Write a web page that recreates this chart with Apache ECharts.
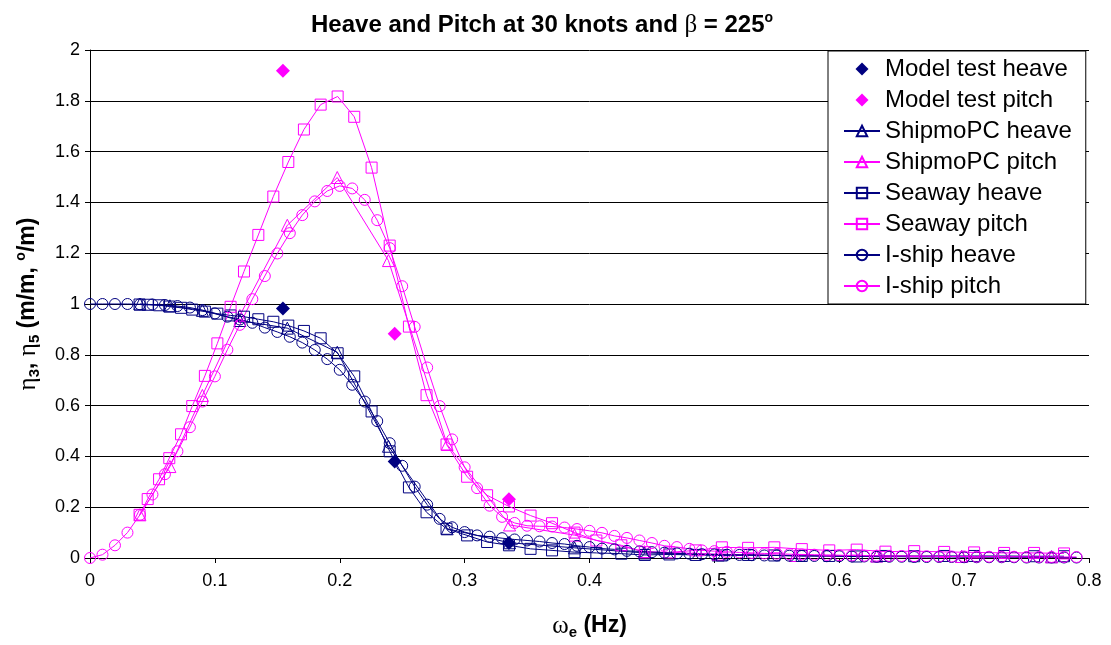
<!DOCTYPE html>
<html>
<head>
<meta charset="utf-8">
<script src="https://cdn.jsdelivr.net/npm/echarts@6/dist/echarts.min.js"></script>
<style>
html, body { margin: 0; background: #fff; }
#main { width: 1111px; height: 645px; }
</style>
</head>
<body>
<div id="main"></div>
<script>
// frequencies (Hz) and responses
var ishipFreq = [0.00, 0.01, 0.02, 0.03, 0.04, 0.05, 0.06, 0.07, 0.08, 0.09,
  0.10, 0.11, 0.12, 0.13, 0.14, 0.15, 0.16, 0.17, 0.18, 0.19,
  0.20, 0.21, 0.22, 0.23, 0.24, 0.25, 0.26, 0.27, 0.28, 0.29,
  0.30, 0.31, 0.32, 0.33, 0.34, 0.35, 0.36, 0.37, 0.38, 0.39,
  0.40, 0.41, 0.42, 0.43, 0.44, 0.45, 0.46, 0.47, 0.48, 0.49,
  0.50, 0.51, 0.52, 0.53, 0.54, 0.55, 0.56, 0.57, 0.58, 0.59,
  0.60, 0.61, 0.62, 0.63, 0.64, 0.65, 0.66, 0.67, 0.68, 0.69,
  0.70, 0.71, 0.72, 0.73, 0.74, 0.75, 0.76, 0.77, 0.78, 0.79];
var ishipHeave = [1.000, 1.000, 1.000, 1.000, 0.999, 0.998, 0.996, 0.992, 0.986, 0.976,
  0.963, 0.950, 0.939, 0.926, 0.907, 0.890, 0.871, 0.848, 0.819, 0.783,
  0.741, 0.682, 0.616, 0.539, 0.452, 0.363, 0.281, 0.210, 0.154, 0.121,
  0.102, 0.089, 0.084, 0.078, 0.073, 0.069, 0.065, 0.059, 0.055, 0.048,
  0.043, 0.037, 0.034, 0.028, 0.026, 0.023, 0.021, 0.018, 0.017, 0.015,
  0.014, 0.013, 0.012, 0.011, 0.010, 0.010, 0.009, 0.008, 0.008, 0.007,
  0.007, 0.006, 0.006, 0.005, 0.005, 0.005, 0.004, 0.004, 0.004, 0.004,
  0.003, 0.003, 0.003, 0.003, 0.003, 0.002, 0.002, 0.002, 0.002, 0.002];
var ishipPitch = [0.000, 0.013, 0.050, 0.100, 0.170, 0.250, 0.330, 0.420, 0.515, 0.616,
  0.715, 0.820, 0.918, 1.019, 1.110, 1.199, 1.279, 1.350, 1.404, 1.445,
  1.465, 1.455, 1.410, 1.330, 1.220, 1.070, 0.910, 0.750, 0.598, 0.467,
  0.357, 0.275, 0.206, 0.162, 0.138, 0.127, 0.125, 0.124, 0.120, 0.114,
  0.107, 0.099, 0.087, 0.079, 0.069, 0.059, 0.048, 0.043, 0.036, 0.030,
  0.027, 0.024, 0.022, 0.020, 0.018, 0.017, 0.015, 0.014, 0.013, 0.012,
  0.011, 0.010, 0.009, 0.009, 0.008, 0.008, 0.007, 0.007, 0.006, 0.006,
  0.006, 0.005, 0.005, 0.005, 0.005, 0.004, 0.004, 0.004, 0.004, 0.004];

var seawayFreq = [0.0397, 0.0462, 0.0553, 0.0635, 0.0729, 0.0819, 0.092, 0.102, 0.1126, 0.1233,
  0.1348, 0.1468, 0.1588, 0.1713, 0.1847, 0.1983, 0.2116, 0.2255, 0.240, 0.2554,
  0.2695, 0.2855, 0.302, 0.318, 0.3355, 0.3528, 0.370, 0.388, 0.4055, 0.4255,
  0.4443, 0.464, 0.485, 0.506, 0.527, 0.548, 0.570, 0.592, 0.614, 0.637,
  0.660, 0.684, 0.708, 0.732, 0.756, 0.780];
var seawayHeave = [0.998, 0.997, 0.995, 0.990, 0.985, 0.978, 0.970, 0.962, 0.955, 0.950,
  0.940, 0.930, 0.915, 0.894, 0.865, 0.806, 0.715, 0.577, 0.420, 0.278,
  0.180, 0.115, 0.089, 0.063, 0.050, 0.036, 0.030, 0.023, 0.020, 0.017,
  0.012, 0.014, 0.012, 0.010, 0.012, 0.010, 0.008, 0.008, 0.006, 0.008,
  0.007, 0.008, 0.008, 0.008, 0.007, 0.007];
var seawayPitch = [0.170, 0.232, 0.310, 0.393, 0.487, 0.598, 0.717, 0.845, 0.989, 1.128,
  1.272, 1.423, 1.559, 1.687, 1.785, 1.817, 1.737, 1.537, 1.230, 0.911,
  0.641, 0.447, 0.320, 0.247, 0.203, 0.167, 0.137, 0.100, 0.069, 0.050,
  0.023, 0.022, 0.030, 0.042, 0.040, 0.042, 0.035, 0.030, 0.033, 0.025,
  0.027, 0.024, 0.022, 0.020, 0.020, 0.018];

var shipmoFreq = [0.04, 0.064, 0.09, 0.12, 0.158, 0.198, 0.239, 0.286, 0.336, 0.388,
  0.444, 0.503, 0.565, 0.63, 0.698, 0.77];
var shipmoHeave = [1.000, 0.993, 0.975, 0.935, 0.905, 0.810, 0.440, 0.115, 0.060, 0.040,
  0.020, 0.012, 0.010, 0.008, 0.006, 0.005];
var shipmoPitch = [0.170, 0.360, 0.640, 0.955, 1.310, 1.498, 1.171, 0.447, 0.130, 0.090,
  0.025, 0.015, 0.010, 0.008, 0.006, 0.005];

var testFreq = [0.1545, 0.244, 0.3355];
var testHeave = [0.982, 0.380, 0.059];
var testPitch = [1.918, 0.883, 0.231];

var NAVY = '#000080';
var MAGENTA = '#FF00FF';
var DIAMOND = 'path://M0,-1L1,0L0,1L-1,0Z';

function pairs(xs, ys) {
  return xs.map(function (x, i) { return [x, ys[i]]; });
}

function curve(name, xs, ys, color, symbol) {
  return {
    name: name,
    type: 'line',
    data: pairs(xs, ys),
    symbol: symbol,
    symbolSize: symbol === 'triangle' ? 12 : 11,
    showSymbol: true,
    lineStyle: { color: color, width: 1 },
    itemStyle: { color: 'rgba(255,255,255,0)', borderColor: color, borderWidth: 1 },
    emphasis: { disabled: true }
  };
}

// markers only
function points(name, xs, ys, color) {
  return {
    name: name,
    type: 'line',
    data: pairs(xs, ys),
    symbol: 'diamond',
    symbolSize: 14,
    showSymbol: true,
    lineStyle: { color: color, width: 0, opacity: 0 },
    itemStyle: { color: color, borderWidth: 0 },
    emphasis: { disabled: true }
  };
}

var myChart = echarts.init(document.getElementById('main'));

var nameRich = {
  g: { fontFamily: 'Liberation Serif', fontSize: 25, fontWeight: 'normal', color: '#000', lineHeight: 28 },
  sub: { fontFamily: 'Liberation Sans', fontSize: 15, fontWeight: 'bold', color: '#000', verticalAlign: 'bottom', lineHeight: 15 },
  sup: { fontFamily: 'Liberation Sans', fontSize: 14, fontWeight: 'bold', color: '#000', verticalAlign: 'top', lineHeight: 14 }
};

var option = {
  animation: false,
  title: {
    text: 'Heave and Pitch at 30 knots and {g|β} = 225{sup|o}',
    left: 306,
    top: 6,
    textStyle: {
      fontFamily: 'Liberation Sans',
      fontSize: 24,
      fontWeight: 'bold',
      color: '#000',
      lineHeight: 28,
      rich: nameRich
    }
  },
  legend: {
    orient: 'vertical',
    left: 828,
    top: 51,
    padding: [6, 14, 6, 15],
    itemWidth: 36,
    itemHeight: 13,
    itemGap: 7,
    symbolKeepAspect: true,
    borderColor: '#000',
    borderWidth: 1,
    backgroundColor: '#fff',
    textStyle: { fontFamily: 'Liberation Sans', fontSize: 24, color: '#000' },
    data: [
      { name: 'Model test heave', icon: DIAMOND },
      { name: 'Model test pitch', icon: DIAMOND },
      'ShipmoPC heave', 'ShipmoPC pitch',
      'Seaway heave', 'Seaway pitch', 'I-ship heave', 'I-ship pitch']
  },
  grid: { left: 90, top: 50, right: 22, bottom: 84, containLabel: false },
  xAxis: {
    type: 'value',
    min: 0,
    max: 0.8,
    interval: 0.1,
    name: '{g|ω}{sub|e} (Hz)',
    nameLocation: 'middle',
    nameGap: 54,
    nameTextStyle: {
      fontFamily: 'Liberation Sans', fontSize: 23, fontWeight: 'bold', color: '#000', lineHeight: 28,
      rich: nameRich
    },
    axisLine: { lineStyle: { color: '#000', width: 1 } },
    axisTick: { show: true, length: 5, lineStyle: { color: '#000' } },
    axisLabel: { fontFamily: 'Liberation Sans', fontSize: 18, color: '#000', margin: 14 },
    splitLine: { show: false }
  },
  yAxis: {
    type: 'value',
    min: 0,
    max: 2,
    interval: 0.2,
    name: '{g|η}{sub|3}, {g|η}{sub|5} (m/m, {sup|o}/m)',
    nameLocation: 'middle',
    nameRotate: 90,
    nameGap: 48,
    nameTextStyle: {
      fontFamily: 'Liberation Sans', fontSize: 23, fontWeight: 'bold', color: '#000', lineHeight: 28,
      rich: nameRich
    },
    axisLine: { show: true, lineStyle: { color: '#000', width: 1 } },
    axisTick: { show: true, length: 5, lineStyle: { color: '#000' } },
    axisLabel: { fontFamily: 'Liberation Sans', fontSize: 18, color: '#000', margin: 10 },
    splitLine: { show: true, lineStyle: { color: '#000', width: 1 } }
  },
  series: [
    points('Model test heave', testFreq, testHeave, NAVY),
    points('Model test pitch', testFreq, testPitch, MAGENTA),
    curve('ShipmoPC heave', shipmoFreq, shipmoHeave, NAVY, 'triangle'),
    curve('ShipmoPC pitch', shipmoFreq, shipmoPitch, MAGENTA, 'triangle'),
    curve('Seaway heave', seawayFreq, seawayHeave, NAVY, 'rect'),
    curve('Seaway pitch', seawayFreq, seawayPitch, MAGENTA, 'rect'),
    curve('I-ship heave', ishipFreq, ishipHeave, NAVY, 'circle'),
    curve('I-ship pitch', ishipFreq, ishipPitch, MAGENTA, 'circle')
  ]
};

myChart.setOption(option);
</script>
</body>
</html>
